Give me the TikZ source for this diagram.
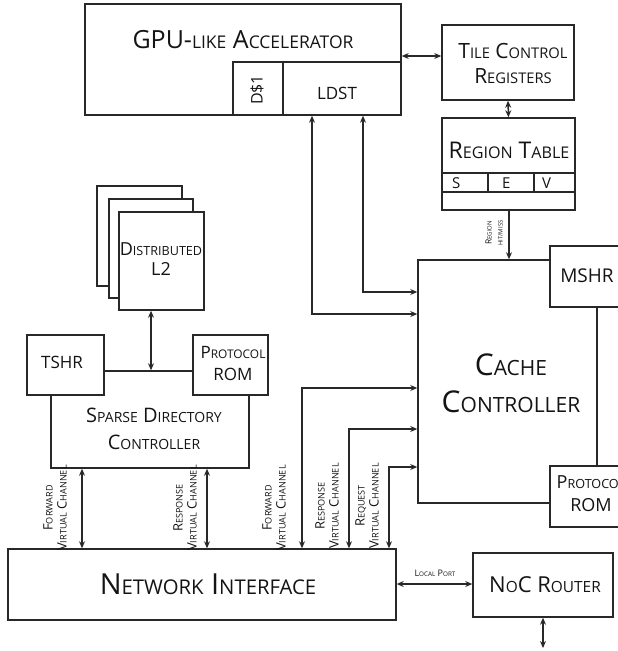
\documentclass[tikz,border=0pt]{standalone}
\usepackage{fontspec}
\setmainfont{Open Sans}
\usetikzlibrary{arrows.meta}
\makeatletter
% fake small caps: upper-case letters at 70% of the current size
\newcommand\lsc[1]{{\fontsize{\strip@pt\dimexpr0.7\dimexpr\f@size pt\relax\relax}{0pt}\selectfont#1}}
\makeatother
\newcommand\fs[2]{\fontsize{#1}{#2}\selectfont}
\definecolor{lc}{RGB}{40,40,40}
\tikzset{
  box/.style={draw=lc, line width=1.5pt, fill=white, inner sep=0pt},
  txt/.style={inner sep=0pt, align=center, text=black!92},
  tip/.tip={Stealth[length=7pt,width=6pt]},
  biarrow/.style={draw=lc, line width=1.5pt, tip-tip},
  toarrow/.style={draw=lc, line width=1.5pt, -tip},
}
\begin{document}
\begin{tikzpicture}[x=1pt,y=-1pt]
\useasboundingbox (0,0) rectangle (618,651);
\clip (0,0) rectangle (618,651);

% ---------------- accelerator ----------------
\node[box, minimum width=316pt, minimum height=111pt] (gpu) at (243,59.5) {};
\node[box, minimum width=50pt, minimum height=53pt] (dc) at (258,88.5) {};
\node[box, minimum width=118pt, minimum height=53pt] (ldst) at (342,88.5) {};
\node[txt, anchor=base, font=\fs{25}{29}] (gputxt) at (243,48) {GPU-\lsc{LIKE} A\lsc{CCELERATOR}};
\node[txt, rotate=90, font=\fs{16}{19}] (dctxt) at (257,90) {D\$1};
\node[txt, anchor=base, font=\fs{17}{20}] (ldsttxt) at (337,99) {LDST};

% ---------------- tile control / region table ----------------
% (anchor=base of a two-line node is the baseline of its last line)
\node[box, minimum width=132pt, minimum height=75pt] (tcr) at (508,62.5) {};
\node[txt, anchor=base, font=\fs{21}{25}] (tcrtxt) at (513,83) {T\lsc{ILE} C\lsc{ONTROL}\\R\lsc{EGISTERS}};
\node[box, minimum width=133pt, minimum height=92pt] (rt) at (508.5,164) {};
\node[txt, anchor=base, font=\fs{23}{27}] (rttxt) at (509,158) {R\lsc{EGION} T\lsc{ABLE}};
\draw[lc, line width=1.5pt] (rt.west |- 0,173) -- (rt.east |- 0,173)
  (rt.west |- 0,192) -- (rt.east |- 0,192)
  (488,173) -- (488,192) (534,173) -- (534,192);
\node[txt, anchor=base west, font=\fs{15}{18}] (bs) at (452,188) {S};
\node[txt, anchor=base west, font=\fs{15}{18}] (be) at (502,188) {E};
\node[txt, anchor=base west, font=\fs{15}{18}] (bv) at (542,188) {V};

% ---------------- cache controller ----------------
\node[box, minimum width=179pt, minimum height=243pt] (cache) at (507.5,381.5) {};
\node[txt, anchor=base, font=\fs{30}{37}] (cachetxt) at (511,412) {C\lsc{ACHE}\\C\lsc{ONTROLLER}};
\node[box, minimum width=100pt, minimum height=61pt] (mshr) at (600,276.5) {};
\node[txt, anchor=base, font=\fs{19}{22}] (mshrtxt) at (587,282) {MSHR};
\node[box, minimum width=100pt, minimum height=61pt] (prom2) at (600,496.5) {};
\node[txt, anchor=base, font=\fs{18}{23}] (prom2txt) at (591,511) {P\lsc{ROTOCOL}\\ROM};

% ---------------- distributed L2 ----------------
\node[box, minimum width=85pt, minimum height=100pt] (l2a) at (139.5,236) {};
\node[box, minimum width=84pt, minimum height=99pt] (l2b) at (151,248.5) {};
\node[box, minimum width=85pt, minimum height=98pt] (l2c) at (161.5,261) {};
\node[txt, anchor=base, font=\fs{18}{20}] (l2txt) at (161,275) {D\lsc{ISTRIBUTED}\\L2};

% ---------------- sparse directory ----------------
\node[box, minimum width=198pt, minimum height=97pt] (sdc) at (150,419.5) {};
\node[box, minimum width=77pt, minimum height=60pt] (tshr) at (65.5,365) {};
\node[txt, anchor=base, font=\fs{17}{20}] (tshrtxt) at (62,368) {TSHR};
\node[box, minimum width=75pt, minimum height=60pt] (prom1) at (230.5,365) {};
\node[txt, anchor=base, font=\fs{17}{22}] (prom1txt) at (233,380) {P\lsc{ROTOCOL}\\ROM};
\node[txt, anchor=base, font=\fs{20}{27}] (sdctxt) at (154,449) {S\lsc{PARSE} D\lsc{IRECTORY}\\C\lsc{ONTROLLER}};

% ---------------- network interface / router ----------------
\node[box, minimum width=388pt, minimum height=71pt] (ni) at (202,584.5) {};
\node[txt, anchor=base, font=\fs{29}{34}] (nitxt) at (208,594) {N\lsc{ETWORK} I\lsc{NTERFACE}};
\node[box, minimum width=140pt, minimum height=64pt] (noc) at (543,585) {};
\node[txt, anchor=base, font=\fs{22}{26}] (noctxt) at (545,592) {N\lsc{O}C R\lsc{OUTER}};
\coordinate (nocout) at (543,648);

% ---------------- connectors ----------------
\draw[biarrow] (gpu.east |- 0,56) -- (tcr.west |- 0,56);
\draw[biarrow] (tcr.south) -- (rt.north);
\draw[toarrow] (rt.south -| 509,0) -- (cache.north -| 509,0);
\draw[biarrow] (ldst.south -| 363,0) |- (cache.west |- 0,292);
\draw[biarrow] (ldst.south -| 312,0) |- (cache.west |- 0,314);
\draw[biarrow] (ni.north -| 302,0) |- (cache.west |- 0,388);
\draw[biarrow] (ni.north -| 349,0) |- (cache.west |- 0,429);
\draw[biarrow] (ni.north -| 389,0) |- (cache.west |- 0,467);
\draw[biarrow] (ni.east |- 0,584) -- (noc.west |- 0,584);
\draw[biarrow] (noc.south) -- (nocout);
\draw[biarrow] (sdc.south -| 82,0) -- (ni.north -| 82,0);
\draw[biarrow] (sdc.south -| 207,0) -- (ni.north -| 207,0);
\draw[biarrow] (l2c.south -| 151,0) -- (sdc.north -| 151,0);

% ---------------- connector labels ----------------
\node[txt, rotate=90, font=\fs{8.5}{11}] (rhm) at (494,233) {R\lsc{EGION}\\\lsc{HIT/MISS}};
\node[txt, anchor=base, font=\fs{9}{11}] (lp) at (435,576) {L\lsc{OCAL} P\lsc{ORT}};
\node[txt, rotate=90, font=\fs{13}{14}] (fvc1) at (55,508) {F\lsc{ORWARD}\\V\lsc{IRTUAL} C\lsc{HANNEL}};
\node[txt, rotate=90, font=\fs{13}{14}] (rvc1) at (185,508) {R\lsc{ESPONSE}\\V\lsc{IRTUAL} C\lsc{HANNEL}};
\node[txt, rotate=90, font=\fs{13}{14}] (fvc2) at (274,508) {F\lsc{ORWARD}\\V\lsc{IRTUAL} C\lsc{HANNEL}};
\node[txt, rotate=90, font=\fs{13}{14}] (rvc2) at (327,506) {R\lsc{ESPONSE}\\V\lsc{IRTUAL} C\lsc{HANNEL}};
\node[txt, rotate=90, font=\fs{13}{14}] (qvc2) at (367,506) {R\lsc{EQUEST}\\V\lsc{IRTUAL} C\lsc{HANNEL}};
\end{tikzpicture}
\end{document}
